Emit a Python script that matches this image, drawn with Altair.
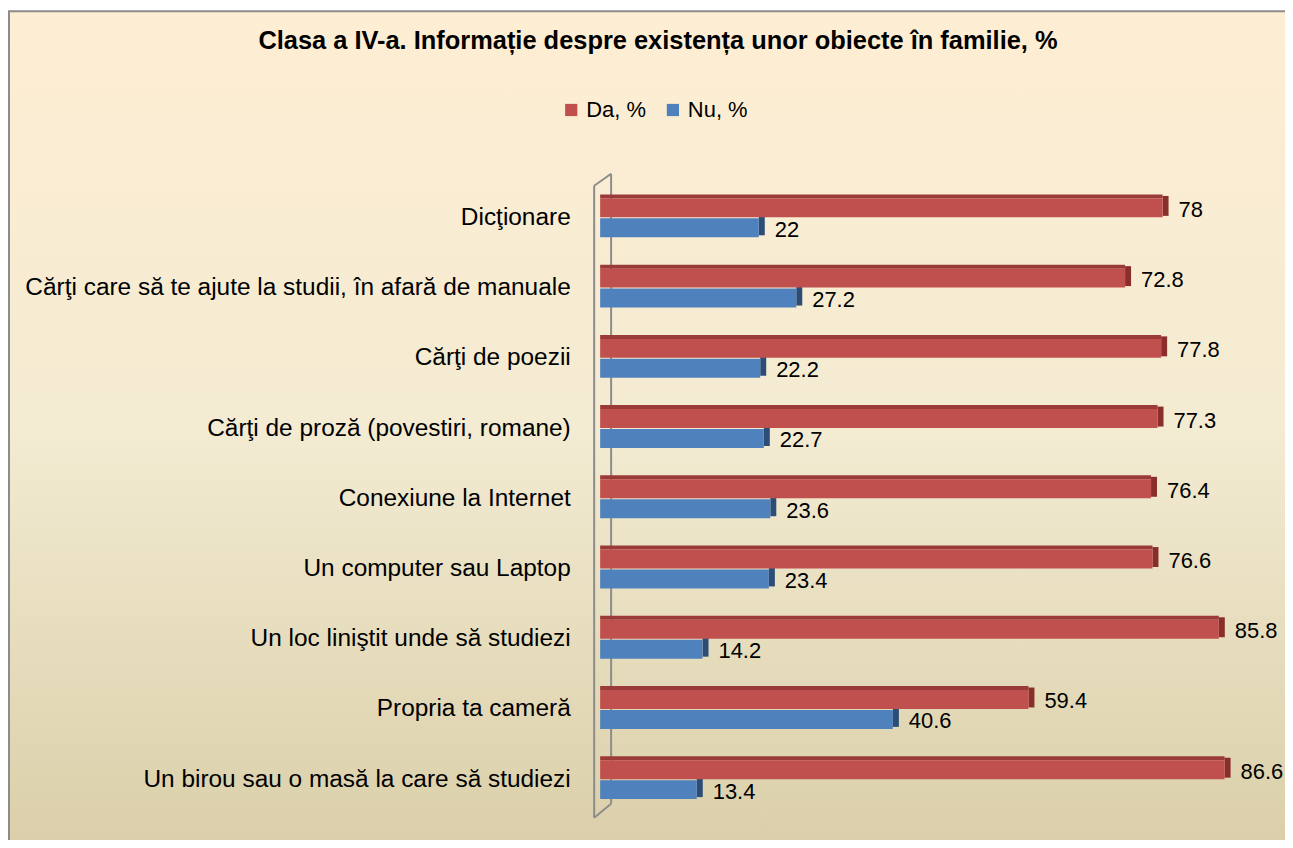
import altair as alt
import pandas as pd

categories = [
    "Dicţionare ",
    "Cărţi care să te ajute la studii, în afară de manuale",
    "Cărţi de poezii",
    "Cărţi de proză (povestiri, romane)",
    "Conexiune la Internet ",
    "Un computer sau Laptop",
    "Un loc liniştit unde să studiezi",
    "Propria ta cameră",
    "Un birou sau o masă la care să studiezi",
]
da_values = [78, 72.8, 77.8, 77.3, 76.4, 76.6, 85.8, 59.4, 86.6]
nu_values = [22, 27.2, 22.2, 22.7, 23.6, 23.4, 14.2, 40.6, 13.4]
series = ["Da, %", "Nu, %"]
colors = ["#C0504D", "#4F81BD"]
title_text = "Clasa a IV-a. Informație despre existența unor obiecte în familie, %"

W, H = 651, 634
PL, PT, PR, PB = 594, 174, 36, 24
FONT = "Liberation Sans"

df_da = pd.DataFrame({"cat": categories, "val": da_values, "series": series[0]})
df_nu = pd.DataFrame({"cat": categories, "val": nu_values, "series": series[1]})

yenc = alt.Y("cat:N", sort=categories, title=None,
             scale=alt.Scale(paddingInner=0, paddingOuter=0),
             axis=alt.Axis(labelFontSize=24.5, labelFont=FONT, labelColor="#000000",
                           ticks=False, domain=False, labelPadding=30, labelLimit=620,
                           zindex=1))
xscale = alt.Scale(domain=[0, 90], nice=False)

one = pd.DataFrame({"a": [0]})

bg = alt.Chart(one).mark_rect(
    stroke="#8C8C8C", strokeWidth=2,
    fill=alt.Gradient(gradient="linear", x1=0, y1=0, x2=0, y2=1,
                      stops=[alt.GradientStop(offset=0, color="#FEEED3"),
                             alt.GradientStop(offset=0.5, color="#F3EBD2"),
                             alt.GradientStop(offset=1, color="#DACFA9")])
).encode(x=alt.value(-PL + 1), x2=alt.value(W + PR + 10),
         y=alt.value(-PT + 2), y2=alt.value(H + PB + 10))

def rule(x1, y1, x2, y2):
    return alt.Chart(one).mark_rule(color="#8C8C8C", strokeWidth=2).encode(
        x=alt.value(x1), y=alt.value(y1), x2=alt.value(x2), y2=alt.value(y2))

walls = [rule(-6, 3, -6, 637), rule(11, -9, 11, 623), rule(-6, 3, 11, -9), rule(-6, 637, 11, 623)]

title = alt.Chart(one).mark_text(fontSize=25.5, font=FONT, fontWeight="bold", color="#000000",
                                 align="center", baseline="middle").encode(
    x=alt.value(58), y=alt.value(-142), text=alt.value(title_text))

color_enc = alt.Color("series:N", scale=alt.Scale(domain=series, range=colors),
                      legend=alt.Legend(title=None, orient="none", direction="horizontal",
                                        legendX=-40, legendY=-84, symbolType="square",
                                        symbolSize=150, labelFontSize=22, labelFont=FONT,
                                        labelColor="#000000", columnPadding=16,
                                        symbolStrokeWidth=0))

red_top = alt.Chart(df_da).mark_bar(height=4, yOffset=-21.5, color="#9B3B39").encode(
    y=yenc, x=alt.X("val:Q", scale=xscale, axis=None))
red_side = alt.Chart(df_da).mark_tick(size=20, thickness=6, xOffset=3, yOffset=-12,
                                      color="#8A2E2C", opacity=1).encode(
    y=yenc, x=alt.X("val:Q", scale=xscale, axis=None))
blue_side = alt.Chart(df_nu).mark_tick(size=19, thickness=6, xOffset=3, yOffset=8,
                                       color="#2C4D75", opacity=1).encode(
    y=yenc, x=alt.X("val:Q", scale=xscale, axis=None))

red = alt.Chart(df_da).mark_bar(height=19, yOffset=-10).encode(
    y=yenc, x=alt.X("val:Q", scale=xscale, axis=None), color=color_enc)
blue = alt.Chart(df_nu).mark_bar(height=19, yOffset=10).encode(
    y=yenc, x=alt.X("val:Q", scale=xscale, axis=None), color=color_enc)

red_txt = alt.Chart(df_da).mark_text(align="left", baseline="middle", dx=16, dy=-8,
                                     fontSize=22, font=FONT, color="#000000").encode(
    y=yenc, x=alt.X("val:Q", scale=xscale), text="val:Q")
blue_txt = alt.Chart(df_nu).mark_text(align="left", baseline="middle", dx=16, dy=12,
                                      fontSize=22, font=FONT, color="#000000").encode(
    y=yenc, x=alt.X("val:Q", scale=xscale), text="val:Q")

chart = alt.layer(bg, *walls, title, red_top, red_side, blue_side, red, blue,
                  red_txt, blue_txt).properties(
    width=W, height=H,
    autosize=alt.AutoSizeParams(type="none"),
    padding={"left": PL, "top": PT, "right": PR, "bottom": PB},
).configure_view(strokeWidth=0).configure(background="#FFFFFF")

chart.save("out.html", embed_options={"renderer": "svg", "actions": False})
